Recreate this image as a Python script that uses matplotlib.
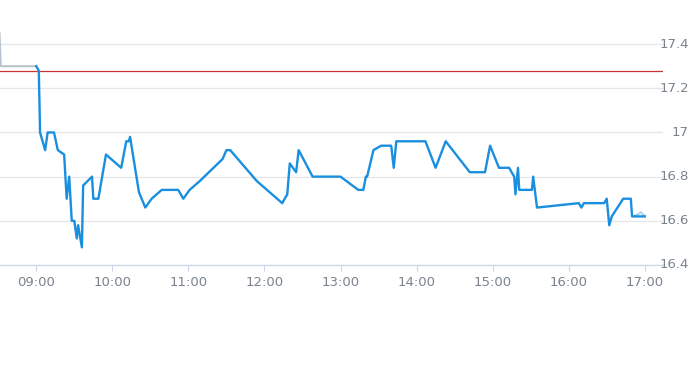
import numpy as np
from matplotlib import pyplot as plt

# intraday price (time as HH:MM, price)
times = ['09:00', '09:02', '09:03', '09:07', '09:09', '09:14', '09:17', '09:22', '09:24', '09:26',
         '09:28', '09:30', '09:32', '09:33', '09:36', '09:37', '09:44', '09:45', '09:49', '09:55',
         '10:07', '10:11', '10:13', '10:14', '10:21', '10:26', '10:31', '10:35', '10:39', '10:52',
         '10:56', '11:01', '11:09', '11:27', '11:30', '11:33', '11:54', '12:14', '12:18', '12:20',
         '12:25', '12:27', '12:38', '13:00', '13:14', '13:18', '13:20', '13:21', '13:26', '13:32',
         '13:40', '13:42', '13:44', '14:07', '14:15', '14:23', '14:42', '14:54', '14:58', '15:05',
         '15:13', '15:17', '15:18', '15:20', '15:21', '15:31', '15:32', '15:35', '16:08', '16:10',
         '16:12', '16:28', '16:30', '16:32', '16:34', '16:43', '16:49', '16:50', '17:00']
prices = [17.30, 17.28, 17.00, 16.92, 17.00, 17.00, 16.92, 16.90, 16.70, 16.80,
          16.60, 16.60, 16.52, 16.58, 16.48, 16.76, 16.80, 16.70, 16.70, 16.90,
          16.84, 16.96, 16.96, 16.98, 16.73, 16.66, 16.70, 16.72, 16.74, 16.74,
          16.70, 16.74, 16.78, 16.88, 16.92, 16.92, 16.78, 16.68, 16.72, 16.86,
          16.82, 16.92, 16.80, 16.80, 16.74, 16.74, 16.80, 16.80, 16.92, 16.94,
          16.94, 16.84, 16.96, 16.96, 16.84, 16.96, 16.82, 16.82, 16.94, 16.84,
          16.84, 16.80, 16.72, 16.84, 16.74, 16.74, 16.80, 16.66, 16.68, 16.66,
          16.68, 16.68, 16.70, 16.58, 16.62, 16.70, 16.70, 16.62, 16.62]

pre_times = ['08:31', '08:32', '09:00']   # grey pre-open line
pre_prices = [17.45, 17.30, 17.30]

post_times = ['16:52', '16:55', '16:57', '16:59', '17:00']   # faint tail
post_prices = [16.625, 16.63, 16.64, 16.625, 16.625]

prev_close = 17.28
x_labels = ['09:00', '10:00', '11:00', '12:00', '13:00', '14:00', '15:00', '16:00', '17:00']
y_ticks = [16.4, 16.6, 16.8, 17.0, 17.2, 17.4]
y_labels = ['16.4', '16.6', '16.8', '17', '17.2', '17.4']

def to_min(t):  # minutes after 09:00
    h, m = t.split(':')
    return (int(h) - 9) * 60 + int(m)

plt.rcParams['font.family'] = ['Liberation Sans Narrow', 'DejaVu Sans']

fig = plt.figure(figsize=(6.93, 3.65), dpi=100)
ax = fig.add_axes([0, 100/365, 663/693, 243/365])

ax.plot([to_min(t) for t in pre_times], pre_prices, color='#b8c3cd', lw=1.5, zorder=3)
ax.plot([to_min(t) for t in post_times], post_prices, color='#a9cbe6', lw=1.2, zorder=3)
ax.plot([to_min(t) for t in times], prices, color='#1a8fdf', lw=1.7, zorder=4)
ax.axhline(prev_close, color='#cc3333', lw=0.9, zorder=2)

ax.set_xlim(-28.6, 494.4)
ax.set_ylim(16.4, 17.5)

ax.set_yticks(y_ticks)
ax.yaxis.grid(True, color='#e4e6e8', lw=0.9)
ax.tick_params(axis='y', length=0, labelleft=False, labelright=False)
for v, lab in zip(y_ticks, y_labels):
    ax.text(689/663, v, lab, transform=ax.get_yaxis_transform(), ha='right', va='center',
            fontsize=9.5, color='#7a838c', clip_on=False)

ax.set_xticks([to_min(t) for t in x_labels])
ax.set_xticklabels(x_labels, fontsize=9.5, color='#7a838c')
ax.tick_params(axis='x', length=4, width=0.8, color='#ccd6eb', pad=4)

for s in ['top', 'left', 'right']:
    ax.spines[s].set_visible(False)
ax.spines['bottom'].set_color('#ccd6eb')
ax.spines['bottom'].set_linewidth(0.9)
ax.set_axisbelow(True)

plt.savefig('out.png', dpi=100)
